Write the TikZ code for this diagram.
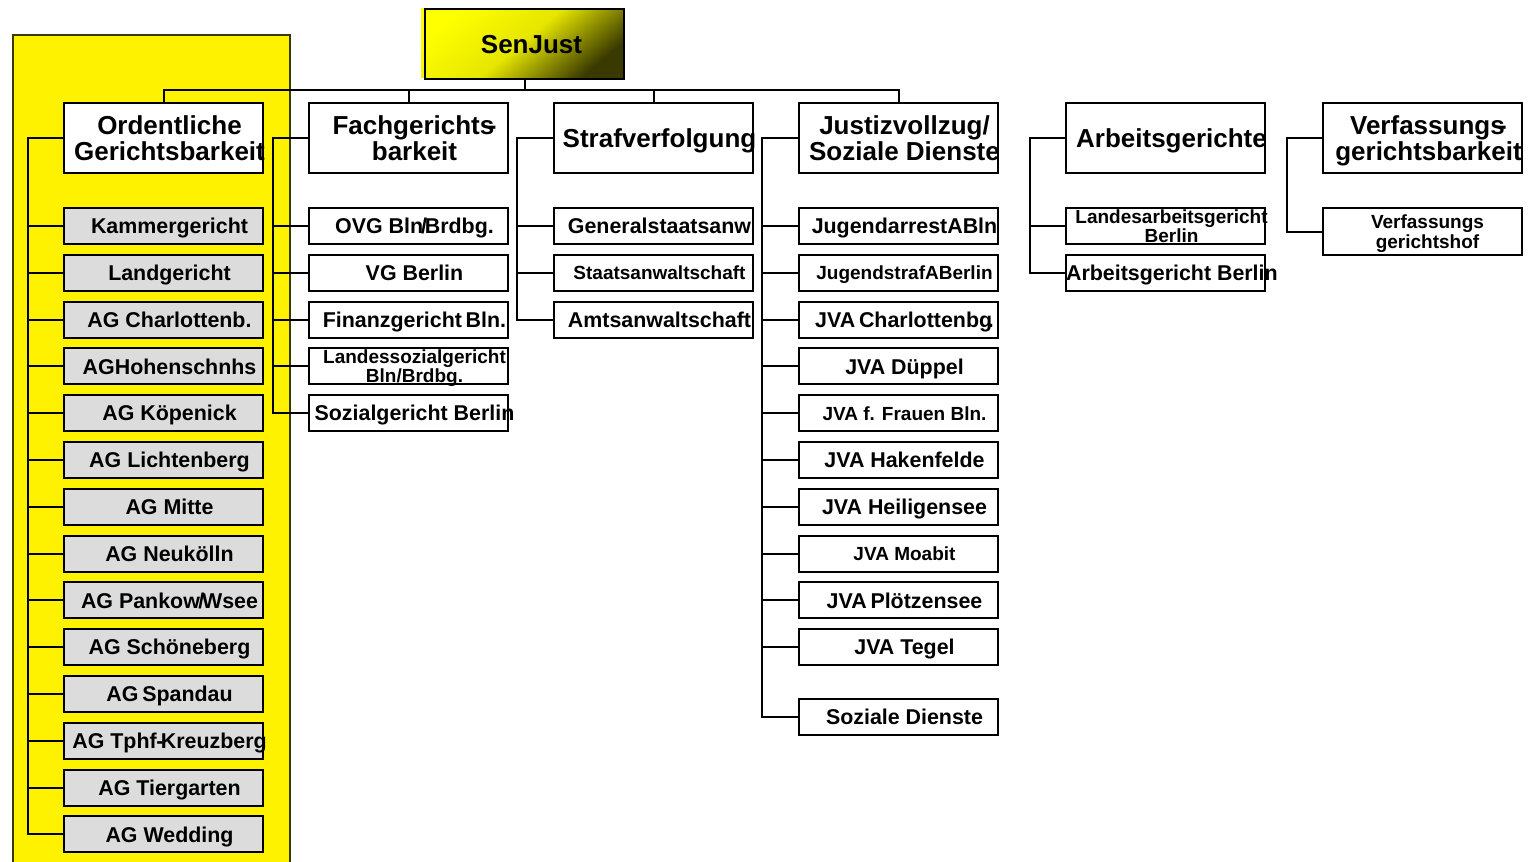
\documentclass[tikz,border=0pt]{standalone}
\usepackage{fontspec}
\setmainfont{Liberation Sans}
\begin{document}
\begin{tikzpicture}[x=0.5pt,y=-0.5pt,
  conn/.style={line width=1pt, draw=black},
  tbox/.style={draw=black, line width=1pt, fill=white, minimum width=99.5pt, minimum height=35pt, inner sep=0pt},
  cbox/.style={draw=black, line width=1pt, fill=white, minimum width=99.5pt, minimum height=18pt, inner sep=0pt},
  gbox/.style={cbox, fill=boxgray},
  ttl/.style={font=\fontsize{13}{13}\selectfont\bfseries, align=center, inner sep=0pt, text depth=0pt},
  lab/.style={font=\fontsize{10.7}{10.7}\selectfont\bfseries, align=center, inner sep=0pt, text depth=0pt},
  sml/.style={font=\fontsize{9.5}{9.3}\selectfont\bfseries, align=center, inner sep=0pt, text depth=0pt},
]
\definecolor{boxgray}{HTML}{DCDCDC}
\definecolor{olivedark}{HTML}{3A3A00}
\useasboundingbox (0,0) rectangle (1532,862);
\clip (0,0) rectangle (1532,862);
\newcommand\bx[5]{\node[#1] (#2) at (#3) {}; \node[#4, xshift=3pt] at (#2) {#5};}

% yellow background panel
\draw[draw=olivedark, line width=1pt, fill=yellow] (13,35) rectangle (290,880);

% SenJust
\shade[top color=yellow, bottom color=olivedark, middle color=yellow!90!black, shading angle=40] (421,8) rectangle (623,77);
\node[draw=black, line width=1pt, minimum width=99.5pt, minimum height=35pt, inner sep=0pt] (sen) at (524.5,44) {};
\node[ttl, xshift=3.5pt] at (sen) {SenJust};

% top level
\bx{tbox}{ord}{163.5,138}{ttl}{Ordentliche\\Gerichtsbarkeit}
\bx{tbox}{fach}{408.5,138}{ttl}{Fachgerichts\kern-.25em-\\barkeit}
\bx{tbox}{straf}{653.5,138}{ttl}{Strafverfolgung}
\bx{tbox}{jus}{898.5,138}{ttl}{Justizvollzug/\\Soziale Dienste}
\bx{tbox}{arb}{1165.5,138}{ttl}{Arbeitsgerichte}
\bx{tbox}{verf}{1422.5,138}{ttl}{Verfassungs\kern-.25em-\\gerichtsbarkeit}

% bus
\coordinate (bus) at (163.5,90);
\draw[conn] (ord.north) -- (ord.north |- bus) -- (jus.north |- bus) -- (jus.north);
\draw[conn] (fach.north) -- (fach.north |- bus);
\draw[conn] (straf.north) -- (straf.north |- bus);
\draw[conn] (sen.south) -- (sen.south |- bus);

% column 1
\bx{gbox}{a1}{163.5,226}{lab}{Kammergericht}
\bx{gbox}{a2}{163.5,272.8}{lab}{Landgericht}
\bx{gbox}{a3}{163.5,319.6}{lab}{AG Charlottenb.}
\bx{gbox}{a4}{163.5,366.4}{lab}{AGHohenschnhs}
\bx{gbox}{a5}{163.5,413.2}{lab}{AG Köpenick}
\bx{gbox}{a6}{163.5,460}{lab}{AG Lichtenberg}
\bx{gbox}{a7}{163.5,506.8}{lab}{AG Mitte}
\bx{gbox}{a8}{163.5,553.6}{lab}{AG Neukölln}
\bx{gbox}{a9}{163.5,600.4}{lab}{AG Pankow\kern-.08em/\kern-.1em Wsee}
\bx{gbox}{a10}{163.5,647.2}{lab}{AG Schöneberg}
\bx{gbox}{a11}{163.5,694}{lab}{AG\kern-.1em{} Spandau}
\bx{gbox}{a12}{163.5,740.8}{lab}{AG Tphf\kern-.02em-\kern-.12em Kreuzberg}
\bx{gbox}{a13}{163.5,787.6}{lab}{AG Tiergarten}
\bx{gbox}{a14}{163.5,834.4}{lab}{AG Wedding}
\coordinate (v1) at (28,138);
\draw[conn] (ord.west) -- (v1) |- (a14.west);
\foreach \i in {1,...,13} {\draw[conn] (a\i.west) -- (a\i.west -| v1);}

% column 2
\bx{cbox}{b1}{408.5,226}{lab}{OVG Bln\kern-.1em/\kern-.1em Brdbg.}
\bx{cbox}{b2}{408.5,272.8}{lab}{VG Berlin}
\bx{cbox}{b3}{408.5,319.6}{lab}{Finanzgericht\kern-.1em{} Bln.}
\bx{cbox}{b4}{408.5,366.4}{sml}{Landessozialgericht\\Bln/Brdbg.}
\bx{cbox}{b5}{408.5,413.2}{lab}{Sozialgericht Berlin}
\coordinate (v2) at (273,138);
\draw[conn] (fach.west) -- (v2) |- (b5.west);
\foreach \i in {1,...,4} {\draw[conn] (b\i.west) -- (b\i.west -| v2);}

% column 3
\bx{cbox}{c1}{653.5,226}{lab}{Generalstaatsanw}
\bx{cbox}{c2}{653.5,272.8}{sml}{Staatsanwaltschaft}
\bx{cbox}{c3}{653.5,319.6}{lab}{Amtsanwaltschaft}
\coordinate (v3) at (517,138);
\draw[conn] (straf.west) -- (v3) |- (c3.west);
\foreach \i in {1,2} {\draw[conn] (c\i.west) -- (c\i.west -| v3);}

% column 4
\bx{cbox}{d1}{898.5,226}{lab}{JugendarrestABln}
\bx{cbox}{d2}{898.5,272.8}{sml}{JugendstrafABerlin}
\bx{cbox}{d3}{898.5,319.6}{lab}{JVA\kern-.1em{} Charlottenbg\kern-.2em.}
\bx{cbox}{d4}{898.5,366.4}{lab}{JVA Düppel}
\bx{cbox}{d5}{898.5,413.2}{sml}{JVA f. Frauen Bln.}
\bx{cbox}{d6}{898.5,460}{lab}{JVA Hakenfelde}
\bx{cbox}{d7}{898.5,506.8}{lab}{JVA Heiligensee}
\bx{cbox}{d8}{898.5,553.6}{sml}{JVA Moabit}
\bx{cbox}{d9}{898.5,600.4}{lab}{JVA\kern-.1em{} Plötzensee}
\bx{cbox}{d10}{898.5,647.2}{lab}{JVA Tegel}
\bx{cbox}{d11}{898.5,717}{lab}{Soziale Dienste}
\coordinate (v4) at (762,138);
\draw[conn] (jus.west) -- (v4) |- (d11.west);
\foreach \i in {1,...,10} {\draw[conn] (d\i.west) -- (d\i.west -| v4);}

% column 5
\bx{cbox}{e1}{1165.5,226}{sml}{Landesarbeitsgericht\\Berlin}
\coordinate (v5) at (1030,138);
\draw[conn] (arb.west) -- (v5) |- (e1.west);
\node[cbox, fill=none] (e2) at (1165.5,272.8) {};
\draw[conn] (e2.west) -- (e2.west -| v5) -- (v5);
\node[lab, xshift=3.2pt] at (e2) {Arbeitsgericht Berlin};

% column 6
\node[cbox, minimum height=23.5pt] (f1) at (1422.5,231.5) {};
\node[sml, xshift=2.5pt, font=\fontsize{9.5}{10}\selectfont\bfseries] at (f1) {Verfassungs\\gerichtshof};
\coordinate (v6) at (1287,138);
\draw[conn] (verf.west) -- (v6) |- (f1.west);
\end{tikzpicture}
\end{document}
